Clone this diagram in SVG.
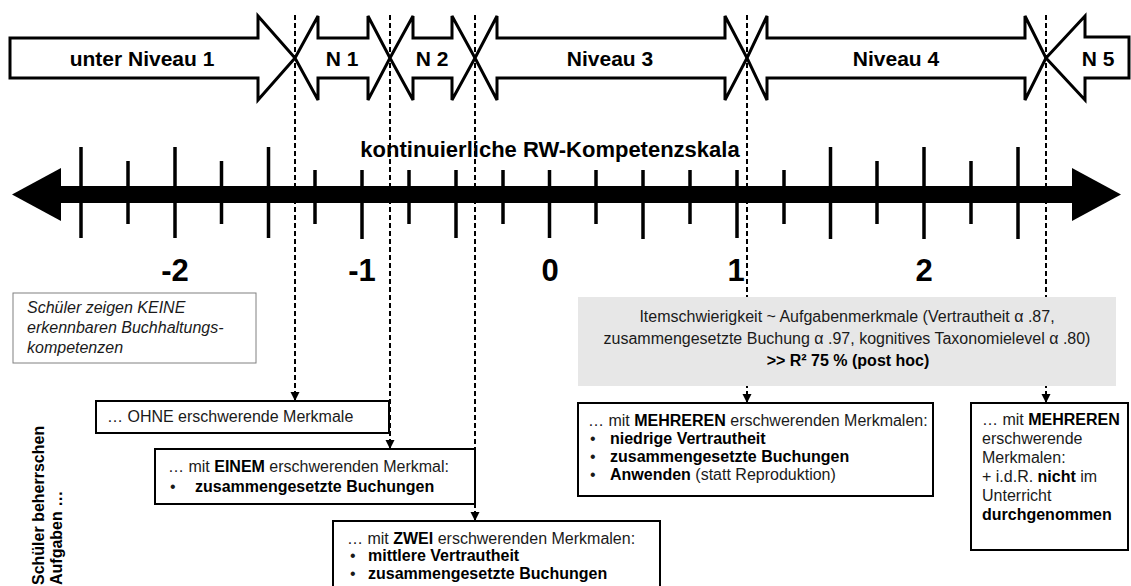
<svg xmlns="http://www.w3.org/2000/svg" width="1131" height="586" viewBox="0 0 1131 586">
<defs>
<style>
text{font-family:"Liberation Sans",Arial,sans-serif;fill:#000}
.lvl{fill:#fff;stroke:#000;stroke-width:3;stroke-linejoin:miter}
.lbl{font-size:21px;font-weight:bold;text-anchor:middle}
.num{font-size:31px;font-weight:bold;text-anchor:middle}
.tick{stroke:#000;stroke-width:3.5}
.dash{stroke:#000;stroke-width:2;stroke-dasharray:5,3;fill:none}
.box{fill:#fff;stroke:#000;stroke-width:2}
.t{font-size:16px;fill:#1a1a1a}
.b{font-weight:bold;fill:#000}
</style>
<marker id="ah" markerUnits="userSpaceOnUse" markerWidth="9" markerHeight="10" refX="9" refY="4.5" orient="auto">
<path d="M0,0 L9,4.5 L0,9 z" fill="#000"/>
</marker>
</defs>
<rect width="1131" height="586" fill="#fff"/>

<g id="levels">
<g id="lvl-unter1">
<polygon class="lvl" points="10,38 258,38 258,16 295,58 258,100 258,78 10,78"/>
<text class="lbl" x="142" y="66">unter Niveau 1</text>
</g>
<g id="lvl-n1">
<polygon class="lvl" points="295,58 318,16 318,38 368,38 368,16 390,58 368,100 368,78 318,78 318,100"/>
<text class="lbl" x="342" y="66">N 1</text>
</g>
<g id="lvl-n2">
<polygon class="lvl" points="390,58 413,16 413,38 452,38 452,16 475,58 452,100 452,78 413,78 413,100"/>
<text class="lbl" x="432" y="66">N 2</text>
</g>
<g id="lvl-n3">
<polygon class="lvl" points="475,58 497,16 497,38 725,38 725,16 747,58 725,100 725,78 497,78 497,100"/>
<text class="lbl" x="610" y="66">Niveau 3</text>
</g>
<g id="lvl-n4">
<polygon class="lvl" points="747,58 767,16 767,38 1025,38 1025,16 1046,58 1025,100 1025,78 767,78 767,100"/>
<text class="lbl" x="896" y="66">Niveau 4</text>
</g>
<g id="lvl-n5">
<polygon class="lvl" points="1046,58 1085,16 1085,37 1129,37 1129,78 1085,78 1085,100"/>
<text class="lbl" x="1098" y="66">N 5</text>
</g>
</g>

<g id="scale">
<rect x="58" y="186" width="1016" height="17" fill="#000"/>
<polygon points="12,194.5 61,168 61,221" fill="#000"/>
<polygon points="1072,168 1121,194.5 1072,221" fill="#000"/>
<line class="tick" x1="81" y1="147" x2="81" y2="238"/>
<line class="tick" x1="128" y1="161" x2="128" y2="224"/>
<line class="tick" x1="175" y1="147" x2="175" y2="238"/>
<line class="tick" x1="221.5" y1="161" x2="221.5" y2="224"/>
<line class="tick" x1="268.5" y1="147" x2="268.5" y2="238"/>
<line class="tick" x1="315" y1="170" x2="315" y2="224"/>
<line class="tick" x1="362" y1="170" x2="362" y2="239"/>
<line class="tick" x1="409" y1="170" x2="409" y2="224"/>
<line class="tick" x1="456" y1="170" x2="456" y2="238"/>
<line class="tick" x1="503" y1="170" x2="503" y2="224"/>
<line class="tick" x1="549.5" y1="170" x2="549.5" y2="238"/>
<line class="tick" x1="596" y1="170" x2="596" y2="224"/>
<line class="tick" x1="643" y1="170" x2="643" y2="239"/>
<line class="tick" x1="690" y1="170" x2="690" y2="224"/>
<line class="tick" x1="737" y1="170" x2="737" y2="238"/>
<line class="tick" x1="784" y1="170" x2="784" y2="224"/>
<line class="tick" x1="830.5" y1="147" x2="830.5" y2="239"/>
<line class="tick" x1="877" y1="161" x2="877" y2="224"/>
<line class="tick" x1="924" y1="147" x2="924" y2="239"/>
<line class="tick" x1="971" y1="161" x2="971" y2="224"/>
<line class="tick" x1="1018" y1="147" x2="1018" y2="239"/>
<text x="550" y="157" font-size="22" font-weight="bold" text-anchor="middle">kontinuierliche RW-Kompetenzskala</text>
<text class="num" x="175" y="281">-2</text>
<text class="num" x="362" y="281">-1</text>
<text class="num" x="550" y="281">0</text>
<text class="num" x="736" y="281">1</text>
<text class="num" x="924" y="281">2</text>
</g>

<g id="connectors">
<line class="dash" x1="295" y1="15" x2="295" y2="401" marker-end="url(#ah)"/>
<line class="dash" x1="390" y1="15" x2="390" y2="449" marker-end="url(#ah)"/>
<line class="dash" x1="475" y1="15" x2="475" y2="521" marker-end="url(#ah)"/>
<line class="dash" x1="747" y1="15" x2="747" y2="403" marker-end="url(#ah)"/>
<line class="dash" x1="1046" y1="15" x2="1046" y2="403" marker-end="url(#ah)"/>
</g>

<g id="keine">
<rect x="13" y="293" width="243" height="70" fill="#fff" stroke="#808080" stroke-width="1"/>
<text class="t" font-style="italic" x="27" y="313">Schüler zeigen KEINE</text>
<text class="t" font-style="italic" x="27" y="333">erkennbaren Buchhaltungs-</text>
<text class="t" font-style="italic" x="27" y="353">kompetenzen</text>
</g>

<g id="regression">
<rect x="578" y="297" width="538" height="89" fill="#e7e7e7"/>
<text class="t" font-size="16.4" x="847" y="322" text-anchor="middle">Itemschwierigkeit ~  Aufgabenmerkmale  (Vertrautheit α .87,</text>
<text class="t" font-size="16.4" x="847" y="344" text-anchor="middle">zusammengesetzte Buchung α .97, kognitives Taxonomielevel α .80)</text>
<text class="t b" x="848" y="366" text-anchor="middle">&gt;&gt;  R² 75 % (post hoc)</text>
</g>

<g id="ohne">
<rect class="box" x="96" y="401" width="293" height="32"/>
<text class="t" x="107" y="422">… OHNE erschwerende Merkmale</text>
</g>

<g id="einem">
<rect class="box" x="155" y="449" width="320" height="55"/>
<text class="t" x="168" y="472">… mit <tspan class="b">EINEM</tspan> erschwerenden Merkmal:</text>
<text class="t" x="170" y="492">•</text>
<text class="t b" x="195" y="492">zusammengesetzte Buchungen</text>
</g>

<g id="zwei">
<rect class="box" x="333" y="521" width="327" height="80"/>
<text class="t" x="347" y="544">… mit <tspan class="b">ZWEI</tspan> erschwerenden Merkmalen:</text>
<text class="t" x="350" y="561">•</text>
<text class="t b" x="368" y="561">mittlere Vertrautheit</text>
<text class="t" x="350" y="579">•</text>
<text class="t b" x="368" y="579">zusammengesetzte Buchungen</text>
</g>

<g id="mehrere">
<rect class="box" x="578" y="403" width="355" height="93"/>
<text class="t" x="588" y="426">… mit <tspan class="b">MEHREREN</tspan> erschwerenden Merkmalen:</text>
<text class="t" x="590" y="444">•</text>
<text class="t b" x="610" y="444">niedrige Vertrautheit</text>
<text class="t" x="590" y="462">•</text>
<text class="t b" x="610" y="462">zusammengesetzte Buchungen</text>
<text class="t" x="590" y="480">•</text>
<text class="t" x="610" y="480"><tspan class="b">Anwenden</tspan> (statt Reproduktion)</text>
</g>

<g id="mehrere-n5">
<rect class="box" x="971" y="403" width="157" height="147"/>
<text class="t" x="982" y="425">… mit <tspan class="b">MEHREREN</tspan></text>
<text class="t" x="982" y="444">erschwerende</text>
<text class="t" x="982" y="463">Merkmalen:</text>
<text class="t" x="982" y="482">+ i.d.R. <tspan class="b">nicht</tspan> im</text>
<text class="t" x="982" y="501">Unterricht</text>
<text class="t b" x="982" y="520">durchgenommen</text>
</g>

<g id="side-label">
<text class="t b" font-size="17" transform="translate(44,585) rotate(-90)">Schüler beherrschen</text>
<text class="t b" font-size="17" transform="translate(62,585) rotate(-90)">Aufgaben …</text>
</g>
</svg>
